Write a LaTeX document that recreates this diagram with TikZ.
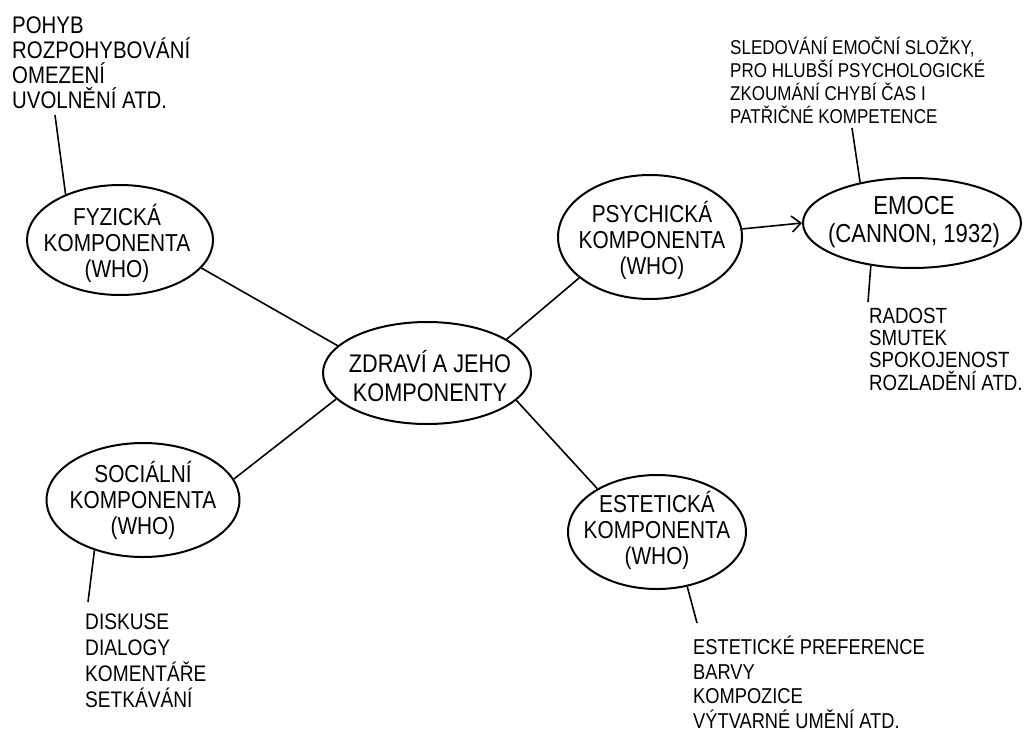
\documentclass[tikz,border=0pt]{standalone}
\usepackage{fontspec}
\setmainfont[FakeStretch=0.85]{Liberation Sans}
\usetikzlibrary{shapes.geometric,arrows.meta}
\begin{document}
\begin{tikzpicture}[x=1pt,y=-1pt,
  bubble/.style={draw, line width=2pt, ellipse, inner sep=0pt},
  btext/.style={align=center, inner sep=0pt, font=\fontsize{24.5}{26}\selectfont},
  link/.style={line width=1.6pt},
  note/.style={anchor=base west, align=left, inner sep=0pt}]
\fill[white] (0,0) rectangle (1025,731);
\useasboundingbox (0,0) rectangle (1025,731);

% bubbles (outline) and their texts
\node[bubble, minimum width=186pt, minimum height=110pt] (fyz) at (120,240) {};
\node[btext] (fyzT) at (117,243) {FYZICKÁ\\KOMPONENTA\\(WHO)};
\node[bubble, minimum width=208pt, minimum height=102pt] (ctr) at (427,373) {};
\node[btext, font=\fontsize{25.5}{29}\selectfont] (ctrT) at (430,376) {ZDRAVÍ A JEHO\\KOMPONENTY};
\node[bubble, minimum width=218pt, minimum height=90pt] (emo) at (912,223) {};
\node[btext, font=\fontsize{26}{28}\selectfont] (emoT) at (914,222) {EMOCE\\(CANNON, 1932)};
\node[bubble, minimum width=184pt, minimum height=124pt] (psy) at (650,237) {};
\node[btext] (psyT) at (652,240) {PSYCHICKÁ\\KOMPONENTA\\(WHO)};
\node[bubble, minimum width=193pt, minimum height=114pt] (soc) at (143,500) {};
\node[btext] (socT) at (143,500) {SOCIÁLNÍ\\KOMPONENTA\\(WHO)};
\node[bubble, minimum width=178pt, minimum height=114pt] (est) at (657,532) {};
\node[btext] (estT) at (657,530) {ESTETICKÁ\\KOMPONENTA\\(WHO)};

% notes (anchored at the baseline of their last line)
\node[note, font=\fontsize{24}{25}\selectfont] (n1) at (12,108) {POHYB\\ROZPOHYBOVÁNÍ\\OMEZENÍ\\UVOLNĚNÍ ATD.};
\node[note, font=\fontsize{20}{23}\selectfont] (n2) at (730,123) {SLEDOVÁNÍ EMOČNÍ SLOŽKY,\\PRO HLUBŠÍ PSYCHOLOGICKÉ\\ZKOUMÁNÍ CHYBÍ ČAS I\\PATŘIČNÉ KOMPETENCE};
\node[note, font=\fontsize{22}{22.3}\selectfont] (n3) at (869,390) {RADOST\\SMUTEK\\SPOKOJENOST\\ROZLADĚNÍ ATD.};
\node[note, font=\fontsize{22.5}{26}\selectfont] (n4) at (85,707) {DISKUSE\\DIALOGY\\KOMENTÁŘE\\SETKÁVÁNÍ};
\node[note, font=\fontsize{21.5}{24.5}\selectfont] (n5) at (693,728) {ESTETICKÉ PREFERENCE\\BARVY\\KOMPOZICE\\VÝTVARNÉ UMĚNÍ ATD.};

% free ends of the note leaders
\coordinate (e1) at (55,115);
\coordinate (e2) at (852,128);
\coordinate (e3) at (868,302);
\coordinate (e4) at (88,602);
\coordinate (e5) at (697,623);

% connectors
\draw[link] (ctr.163) -- (fyz.-19);
\draw[link] (ctr.23) -- (psy.210);
\draw[link] (ctr.196) -- (soc.13);
\draw[link] (ctr.-17) -- (est.144);
\draw[link, -{Straight Barb[length=9pt,width=16pt]}] (psy.5) -- (emo.180);

\draw[link] (fyz.140) -- (e1);
\draw[link] (emo.142) -- (e2);
\draw[link] (emo.226) -- (e3);
\draw[link] (soc.226) -- (e4);
\draw[link] (est.299) -- (e5);
\end{tikzpicture}
\end{document}
